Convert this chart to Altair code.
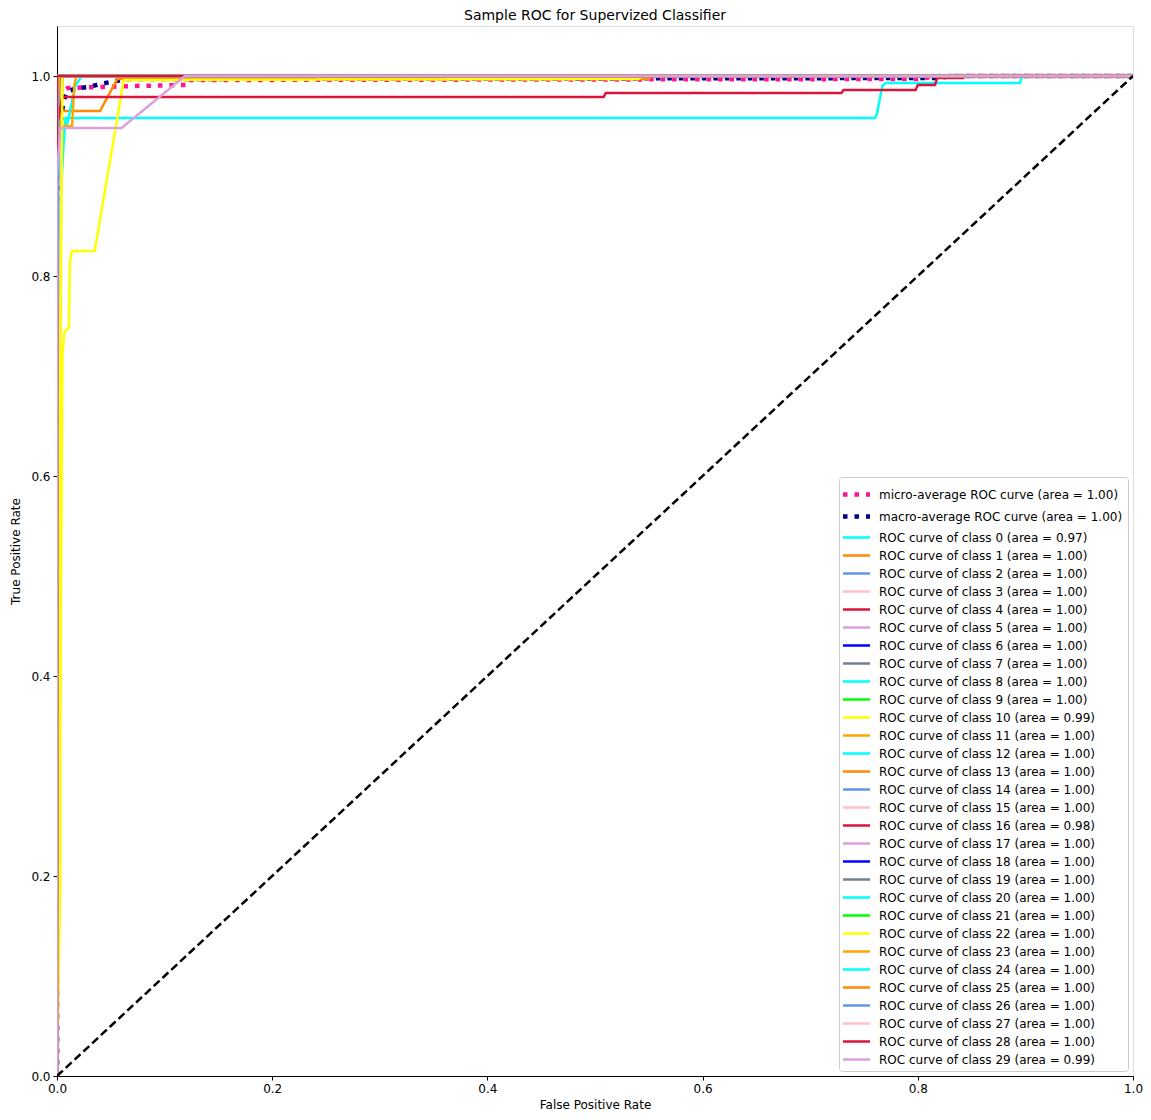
import altair as alt
import pandas as pd

# ---- data ----
micro_fpr = [0.0, 0.0, 0.001, 0.003, 0.006, 0.01, 0.07, 0.12, 0.122, 0.8, 0.82, 1.0]
micro_tpr = [0.0, 0.5, 0.9, 0.975, 0.985, 0.988, 0.99, 0.991, 0.996, 0.997, 1.0, 1.0]
macro_fpr = [0.0, 0.0, 0.003, 0.006, 0.01, 0.02, 0.03, 0.04, 0.055, 0.065, 0.82, 0.83, 1.0]
macro_tpr = [0.0, 0.6, 0.95, 0.975, 0.985, 0.988, 0.989, 0.992, 0.995, 0.997, 0.998, 1.0, 1.0]

class_fpr = [
    [0, 0, 0.002, 0.003, 0.006, 0.008, 0.76, 0.762, 0.767, 0.77, 0.895, 0.897, 1],
    [0, 0, 0.003, 0.04, 0.056, 0.55, 0.552, 1],
    [0, 0, 0.003, 0.005, 1],
    [0, 0.002, 0.004, 1],
    [0, 0, 0.003, 1],
    [0, 0, 0.002, 1],
    [0, 0, 1],
    [0, 0, 0.001, 1],
    [0, 0, 0.01, 0.017, 0.023, 1],
    [0, 0, 1],
    [0, 0.003, 0.005, 0.007, 0.011, 0.012, 0.014, 0.035, 0.051, 0.062, 0.54, 0.545, 1],
    [0, 0, 0.014, 0.016, 0.018, 1],
    [0, 0, 0.002, 1],
    [0, 0, 0.004, 0.005, 1],
    [0, 0, 0.002, 1],
    [0, 0, 0.001, 1],
    [0, 0, 0.005, 0.508, 0.51, 0.729, 0.731, 0.798, 0.8, 0.816, 0.818, 0.842, 0.845, 1],
    [0, 0, 1],
    [0, 0, 1],
    [0, 0, 0.002, 1],
    [0, 0, 1],
    [0, 0, 1],
    [0, 0.003, 0.003, 0.005, 1],
    [0, 0, 0.002, 1],
    [0, 0, 1],
    [0, 0, 0.001, 1],
    [0, 0, 1],
    [0, 0, 1],
    [0, 0, 1],
    [0, 0, 0.003, 0.06, 0.119, 1],
]
class_tpr = [
    [0, 0.6, 0.75, 0.87, 0.93, 0.958, 0.958, 0.962, 0.99, 0.993, 0.993, 1, 1],
    [0, 0.95, 0.965, 0.965, 0.997, 0.997, 1, 1],
    [0, 0.87, 0.93, 1, 1],
    [0, 0.4, 1, 1],
    [0, 0.97, 1, 1],
    [0, 0.9, 1, 1],
    [0, 1, 1],
    [0, 0.95, 1, 1],
    [0, 0.93, 0.954, 0.99, 1, 1],
    [0, 1, 1],
    [0, 0.36, 0.72, 0.745, 0.748, 0.815, 0.825, 0.825, 0.926, 0.996, 0.997, 1, 1],
    [0, 0.95, 0.95, 0.99, 1, 1],
    [0, 0.75, 1, 1],
    [0, 0.95, 0.95, 1, 1],
    [0, 0.9, 1, 1],
    [0, 0.98, 1, 1],
    [0, 0.95, 0.979, 0.979, 0.983, 0.983, 0.986, 0.986, 0.991, 0.991, 0.998, 0.998, 1, 1],
    [0, 1, 1],
    [0, 1, 1],
    [0, 0.97, 1, 1],
    [0, 1, 1],
    [0, 1, 1],
    [0, 0.19, 0.7, 1, 1],
    [0, 0.96, 1, 1],
    [0, 1, 1],
    [0, 0.99, 1, 1],
    [0, 1, 1],
    [0, 1, 1],
    [0, 1, 1],
    [0, 0.9, 0.948, 0.948, 1, 1],
]
class_auc = ["0.97", "1.00", "1.00", "1.00", "1.00", "1.00", "1.00", "1.00", "1.00", "1.00",
             "0.99", "1.00", "1.00", "1.00", "1.00", "1.00", "0.98", "1.00", "1.00", "1.00",
             "1.00", "1.00", "1.00", "1.00", "1.00", "1.00", "1.00", "1.00", "1.00", "0.99"]
cycle_colors = ["#00ffff", "#ff8c00", "#6495ed", "#ffc0cb", "#dc143c", "#dda0dd",
                "#0000ff", "#708090", "#00ffff", "#00ff00", "#ffff00", "#ffa500"]
diag_fpr = [0.0, 1.0]
diag_tpr = [0.0, 1.0]

# ---- build table ----
labels = ["micro-average ROC curve (area = 1.00)", "macro-average ROC curve (area = 1.00)"]
colors = ["#ff1493", "#000080"]
dashes = [[4.5, 7], [4.5, 7]]
widths = [4.5, 4.5]
series = [(micro_fpr, micro_tpr), (macro_fpr, macro_tpr)]
for i in range(30):
    labels.append(f"ROC curve of class {i} (area = {class_auc[i]})")
    colors.append(cycle_colors[i % 12])
    dashes.append([1, 0])
    widths.append(2.5)
    series.append((class_fpr[i], class_tpr[i]))

rows = []
for s, (lab, (fx, ty)) in enumerate(zip(labels, series)):
    for k, (a, b) in enumerate(zip(fx, ty)):
        rows.append({"label": lab, "s": s, "k": k, "fpr": a, "tpr": b})
df = pd.DataFrame(rows)
diag = pd.DataFrame({"fpr": diag_fpr, "tpr": diag_tpr, "k": [0, 1]})

FONT = "DejaVu Sans"
xs = alt.Scale(domain=[0, 1], nice=False, zero=False)
ys = alt.Scale(domain=[0, 1.05], nice=False, zero=False)
xax = alt.Axis(title="False Positive Rate", values=[0, 0.2, 0.4, 0.6, 0.8, 1.0], format=".1f",
               grid=False, tickSize=4, tickColor="black", domainColor="black",
               labelColor="black", titleColor="black", labelFontSize=12, titleFontSize=12,
               titleFontWeight="normal", labelFont=FONT, titleFont=FONT, labelPadding=3,
               titlePadding=5, labelFlush=False)
yax = alt.Axis(title="True Positive Rate", values=[0, 0.2, 0.4, 0.6, 0.8, 1.0], format=".1f",
               grid=False, tickSize=4, tickColor="black", domainColor="black",
               labelColor="black", titleColor="black", labelFontSize=12, titleFontSize=12,
               titleFontWeight="normal", labelFont=FONT, titleFont=FONT, labelPadding=3,
               titlePadding=8, labelFlush=False)

legend = alt.Legend(title=None, orient="bottom-right", offset=5, symbolType="M-1.35,0H1.35",
                    symbolSize=400, symbolLimit=0, labelLimit=400, labelFontSize=12,
                    labelFont=FONT, labelColor="black", rowPadding=0, labelOffset=10,
                    padding=5, strokeColor="#cccccc", fillColor="white", cornerRadius=3,
                    symbolFillColor="transparent")

lines = alt.Chart(df).mark_line(clip=True, strokeCap="butt", interpolate="linear").encode(
    x=alt.X("fpr:Q", scale=xs, axis=xax),
    y=alt.Y("tpr:Q", scale=ys, axis=yax),
    color=alt.Color("label:N", scale=alt.Scale(domain=labels, range=colors), legend=legend, sort=labels),
    strokeDash=alt.StrokeDash("label:N", scale=alt.Scale(domain=labels, range=dashes), legend=legend, sort=labels),
    strokeWidth=alt.StrokeWidth("label:N", scale=alt.Scale(type="ordinal", domain=labels, range=widths), legend=legend, sort=labels),
    order=alt.Order("k:Q"),
)

diag_line = alt.Chart(diag).mark_line(color="black", strokeWidth=2.5, strokeDash=[8, 4], clip=True).encode(
    x=alt.X("fpr:Q", scale=xs),
    y=alt.Y("tpr:Q", scale=ys),
    order=alt.Order("k:Q"),
)

chart = alt.layer(lines, diag_line).properties(
    width=1076, height=1050,
    title=alt.TitleParams("Sample ROC for Supervized Classifier", font=FONT, fontSize=14,
                          fontWeight="normal", color="black", anchor="middle", offset=3),
    autosize=alt.AutoSizeParams(type="none"),
    padding={"left": 49, "top": 18, "right": 10, "bottom": 34},
).configure_view(stroke="black", strokeWidth=1).configure(background="white")

chart.save("out.html", embed_options={"renderer": "svg", "actions": False})
